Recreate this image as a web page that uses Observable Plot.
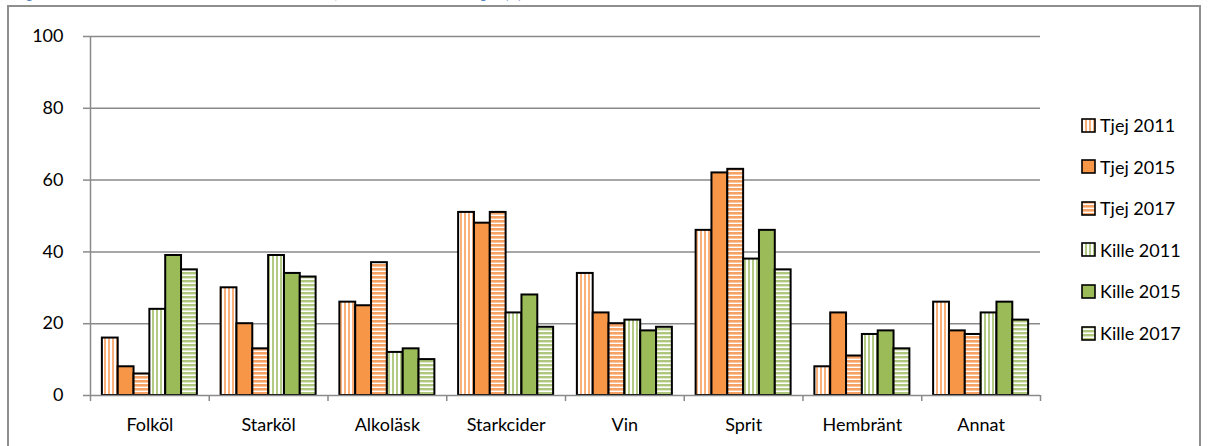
<!DOCTYPE html>
<html>
<head>
<meta charset="utf-8">
<script src="https://cdn.jsdelivr.net/npm/d3@7"></script>
<script src="https://cdn.jsdelivr.net/npm/@observablehq/plot@0.6"></script>
<style>
  html, body { margin: 0; padding: 0; background: #fff; overflow: hidden; }
  #wrap { position: relative; width: 1208px; height: 446px; overflow: hidden; font-family: Lato, "Open Sans", sans-serif; }
  #frame { position: absolute; left: 7px; top: 5px; width: 1194px; height: 470px; border: 2px solid #8e8e8e; box-sizing: border-box; }
  #title { position: absolute; left: 8px; top: -11px; font: bold 12px/12px Lato, sans-serif; color: #4F81BD; white-space: nowrap; }
  #chart { position: absolute; left: 0; top: 0; }
  #legend { position: absolute; left: 1081px; top: 0; }
  .item { position: absolute; left: 0; height: 22px; display: flex; align-items: center; white-space: nowrap; font-size: 18px; color: #000; }
  .item svg { margin-right: 4px; }
</style>
</head>
<body>
<svg width="0" height="0" style="position:absolute">
  <defs>
    <pattern id="pT11" patternUnits="userSpaceOnUse" width="4" height="4">
      <rect width="4" height="4" fill="#fff"/><rect x="0" width="2" height="4" fill="#F9B07A"/>
    </pattern>
    <pattern id="pT17" patternUnits="userSpaceOnUse" width="4" height="4">
      <rect width="4" height="4" fill="#fff"/><rect y="0" width="4" height="2.6" fill="#F7A265"/>
    </pattern>
    <pattern id="pK11" patternUnits="userSpaceOnUse" width="4" height="4">
      <rect width="4" height="4" fill="#fff"/><rect x="0" width="2" height="4" fill="#B3CA85"/>
    </pattern>
    <pattern id="pK17" patternUnits="userSpaceOnUse" width="4" height="4">
      <rect width="4" height="4" fill="#fff"/><rect y="0" width="4" height="2.4" fill="#AFC77D"/>
    </pattern>
  </defs>
</svg>
<div id="wrap">
  <div id="title">Diagram 7. Andel som druckit olika alkoholsorter senaste året, efter kön och undersökningsår (%)</div>
  <div id="frame"></div>
  <div id="chart"></div>
  <div id="legend"></div>
</div>
<script>
// ---- data ----
const categories = ["Folköl", "Starköl", "Alkoläsk", "Starkcider", "Vin", "Sprit", "Hembränt", "Annat"];
const seriesNames = ["Tjej 2011", "Tjej 2015", "Tjej 2017", "Kille 2011", "Kille 2015", "Kille 2017"];
const tjej2011  = [16, 30, 26, 51, 34, 46,  8, 26];
const tjej2015  = [ 8, 20, 25, 48, 23, 62, 23, 18];
const tjej2017  = [ 6, 13, 37, 51, 20, 63, 11, 17];
const kille2011 = [24, 39, 12, 23, 21, 38, 17, 23];
const kille2015 = [39, 34, 13, 28, 18, 46, 18, 26];
const kille2017 = [35, 33, 10, 19, 19, 35, 13, 21];
const yTicks = [0, 20, 40, 60, 80, 100];

// ---- styles ----
const seriesValues = [tjej2011, tjej2015, tjej2017, kille2011, kille2015, kille2017];
const fills = ["url(#pT11)", "#F79646", "url(#pT17)", "url(#pK11)", "#9BBB59", "url(#pK17)"];
const groupPad = 0.1;
const barW = (1 - 2 * groupPad) / seriesNames.length;

const marks = [
  Plot.ruleY(yTicks.filter(d => d > 0), {stroke: "#8a8a8a", strokeWidth: 1.5})
];
seriesNames.forEach((name, si) => {
  const rows = categories.map((cat, ci) => ({cat, ci, series: name, value: seriesValues[si][ci]}));
  marks.push(Plot.rectY(rows, {
    x1: d => d.ci + groupPad + si * barW,
    x2: d => d.ci + groupPad + (si + 1) * barW,
    y1: 0,
    y2: "value",
    fill: fills[si],
    stroke: "#000",
    strokeWidth: 2
  }));
});
marks.push(
  Plot.ruleY([0], {stroke: "#8a8a8a", strokeWidth: 1.5}),
  Plot.ruleX([0], {y1: 0, y2: 100, stroke: "#8a8a8a", strokeWidth: 1.5}),
  Plot.axisY({ticks: yTicks, tickSize: 7, tickPadding: 20, stroke: "#8a8a8a", strokeWidth: 1.5, fontSize: 18, fill: "#000", label: null}),
  Plot.axisX({ticks: d3.range(categories.length + 1), tickSize: 6, stroke: "#8a8a8a", strokeWidth: 1.5, tickFormat: () => "", label: null}),
  Plot.axisX({ticks: categories.map((c, i) => i + 0.5), tickSize: 0, tickPadding: 23, tickFormat: v => categories[Math.floor(v)], fontSize: 18, fill: "#000", label: null})
);

const chart = Plot.plot({
  width: 1208,
  height: 446,
  marginLeft: 90,
  marginRight: 168,
  marginTop: 36,
  marginBottom: 51,
  x: {type: "linear", domain: [0, categories.length]},
  y: {domain: [0, 100]},
  style: {fontFamily: "Lato, 'Open Sans', sans-serif", background: "transparent", overflow: "visible"},
  marks
});
document.getElementById("chart").appendChild(chart);

// ---- legend ----
const legend = document.getElementById("legend");
const legendTop = 125, legendStep = 41.6;
seriesNames.forEach((name, si) => {
  const item = document.createElement("div");
  item.className = "item";
  item.style.top = (legendTop + si * legendStep - 11) + "px";
  item.innerHTML = `<svg width="15" height="15"><rect x="1" y="1" width="13" height="13" fill="${fills[si]}" stroke="#000" stroke-width="1.6"/></svg><span>${name}</span>`;
  legend.appendChild(item);
});
</script>
</body>
</html>
